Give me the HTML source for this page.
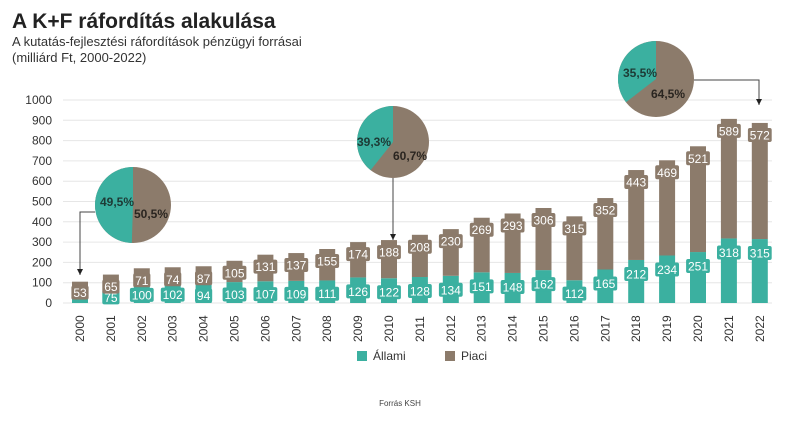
<!DOCTYPE html>
<html><head><meta charset="utf-8"><style>
body{margin:0;background:#fff;width:800px;height:416px;overflow:hidden;font-family:"Liberation Sans",sans-serif}
</style></head><body>
<svg id="s" width="800" height="416" xmlns="http://www.w3.org/2000/svg" font-family="Liberation Sans, sans-serif">
<text x="12" y="28" font-size="21" font-weight="bold" fill="#222">A K+F ráfordítás alakulása</text>
<text x="12" y="46" font-size="13" fill="#333">A kutatás-fejlesztési ráfordítások pénzügyi forrásai</text>
<text x="12" y="62" font-size="13" fill="#333">(milliárd Ft, 2000-2022)</text>
<text x="400" y="406" font-size="8" fill="#444" text-anchor="middle">Forrás KSH</text>
<rect x="357" y="351" width="10" height="10" fill="#3bb0a0"/><text x="373" y="360" font-size="12" fill="#333">Állami</text>
<rect x="445" y="351" width="10" height="10" fill="#8c7b6b"/><text x="461" y="360" font-size="12" fill="#333">Piaci</text>
</svg>
<script>
const s=document.getElementById('s');const NS='http://www.w3.org/2000/svg';
function el(t,a,txt){const e=document.createElementNS(NS,t);for(const k in a)e.setAttribute(k,a[k]);if(txt!==undefined)e.textContent=txt;s.appendChild(e);return e;}
const y0=303,sc=0.203;
for(let i=0;i<=10;i++){const y=y0-i*100*sc;el('line',{x1:63,x2:772,y1:y,y2:y,stroke:'#e6e6e6','stroke-width':1});el('text',{x:52,y:y+4,'font-size':12,fill:'#333','text-anchor':'end'},i*100);}
const A=[52,75,100,102,94,103,107,109,111,126,122,128,134,151,148,162,112,165,212,234,251,318,315];
const P=[53,65,71,74,87,105,131,137,155,174,188,208,230,269,293,306,315,352,443,469,521,589,572];
const T='#3bb0a0',B='#8c7b6b';
function lab(x,y,v,c){const w=String(v).length*6.6+4;el('rect',{x:x-w/2,y:y-7,width:w,height:14,fill:c,rx:2});el('text',{x:x,y:y+4.5,'font-size':12,fill:'#fff','text-anchor':'middle'},v);}
for(let i=0;i<23;i++){const x=80+i*30.9;const ta=y0-A[i]*sc,tp=ta-P[i]*sc;
el('rect',{x:x-8,y:ta,width:16,height:A[i]*sc,fill:T});el('rect',{x:x-8,y:tp,width:16,height:P[i]*sc,fill:B});
if(i>0)lab(x,Math.min(ta+14,(ta+y0)/2+2),A[i],T);
lab(x,i==0?tp+11:tp+12,P[i],B);
el('text',{transform:`translate(${x+4},342) rotate(-90)`,'font-size':12,fill:'#333'},2000+i);}
function pie(cx,cy,r,f,t1,t2,l1,l2){el('circle',{cx,cy,r,fill:B});const a=2*Math.PI*f;const x2=cx-r*Math.sin(a),y2=cy-r*Math.cos(a);
el('path',{d:`M${cx},${cy}L${cx},${cy-r}A${r},${r} 0 ${f>0.5?1:0} 0 ${x2},${y2}Z`,fill:T});
el('text',{x:l1[0],y:l1[1],'font-size':12,'font-weight':'bold',fill:'#1d3a35'},t1);el('text',{x:l2[0],y:l2[1],'font-size':12,'font-weight':'bold',fill:'#2a2520'},t2);}
function arrow(d,x,y){el('path',{d,fill:'none',stroke:'#444','stroke-width':1});el('path',{d:`M${x-3},${y-6}L${x+3},${y-6}L${x},${y}Z`,fill:'#222'});}
arrow('M95,212H80V275',80,275);arrow('M393,178V240',393,240);arrow('M694,80H759V105',759,105);
pie(133,205,38,0.495,'49,5%','50,5%',[100,206],[134,218]);
pie(393,142,36,0.393,'39,3%','60,7%',[357,146],[393,160]);
pie(656,79,38,0.355,'35,5%','64,5%',[623,77],[651,98]);
</script>
</body></html>
